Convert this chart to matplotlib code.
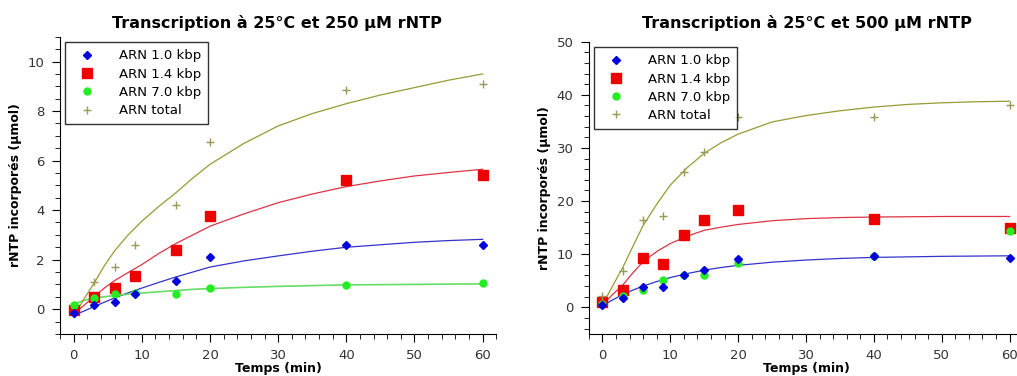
import numpy as np
from matplotlib import pyplot as plt
from matplotlib.ticker import MultipleLocator

# Sampling times (min)
t_250 = [0, 3, 6, 9, 15, 20, 40, 60]
t_500 = [0, 3, 6, 9, 12, 15, 20, 40, 60]

# Measured points, 250 uM rNTP
arn10_250 = [-0.15, 0.15, 0.3, 0.6, 1.15, 2.1, 2.6, 2.6]
arn14_250 = [-0.05, 0.5, 0.85, 1.35, 2.4, 3.75, 5.2, 5.4]
arn70_250 = [0.15, 0.45, 0.6, 0.65, 0.6, 0.85, 0.98, 1.05]
total_250 = [-0.2, 1.1, 1.7, 2.6, 4.2, 6.75, 8.85, 9.1]

# Measured points, 500 uM rNTP
arn10_500 = [0.5, 1.7, 3.9, 3.9, 6.0, 7.0, 9.1, 9.7, 9.2]
arn14_500 = [1.0, 3.2, 9.3, 8.2, 13.7, 16.5, 18.3, 16.7, 15.0]
arn70_500 = [0.7, 2.1, 3.3, 5.2, 6.0, 6.0, 8.3, 9.7, 14.3]
total_500 = [2.2, 6.9, 16.5, 17.2, 25.5, 29.3, 35.8, 35.8, 38.0]

# Fitted curves
t_fit = [0, 1.5, 3, 4.5, 6, 8, 10, 12.5, 15, 17.5, 20, 25, 30, 35, 40, 45, 50, 55, 60]
fit10_250 = [-0.25, -0.08, 0.1, 0.28, 0.45, 0.66, 0.85, 1.08, 1.3, 1.5, 1.7, 1.95, 2.15,
             2.34, 2.5, 2.6, 2.7, 2.77, 2.82]
fit14_250 = [-0.2, 0.15, 0.5, 0.85, 1.15, 1.48, 1.8, 2.25, 2.65, 3.0, 3.35, 3.85, 4.3,
             4.65, 4.95, 5.18, 5.38, 5.52, 5.65]
fit70_250 = [0.2, 0.35, 0.45, 0.5, 0.55, 0.6, 0.65, 0.7, 0.75, 0.8, 0.83, 0.88, 0.92,
             0.95, 0.98, 0.99, 1.0, 1.01, 1.02]
fittot_250 = [-0.3, 0.4, 1.05, 1.75, 2.35, 3.0, 3.55, 4.15, 4.7, 5.3, 5.85, 6.7, 7.4,
              7.9, 8.3, 8.65, 8.95, 9.25, 9.5]

fit10_500 = [0.3, 1.4, 2.4, 3.25, 4.0, 4.85, 5.6, 6.35, 7.0, 7.5, 7.9, 8.5, 8.9,
             9.2, 9.4, 9.5, 9.6, 9.65, 9.7]
fit14_500 = [0.5, 2.4, 4.2, 6.5, 8.6, 10.5, 12.0, 13.4, 14.5, 15.1, 15.6, 16.3, 16.7,
             16.9, 17.0, 17.05, 17.1, 17.1, 17.1]
fittot_500 = [0.5, 4.0, 7.5, 11.5, 15.4, 19.4, 23.0, 26.3, 29.0, 31.0, 32.6, 34.9, 36.1,
              37.0, 37.7, 38.2, 38.5, 38.7, 38.8]

labels = ["ARN 1.0 kbp", "ARN 1.4 kbp", "ARN 7.0 kbp", "ARN total"]
titles = ["Transcription à 25°C et 250 µM rNTP",
          "Transcription à 25°C et 500 µM rNTP"]

C_BLUE, C_RED, C_GREEN, C_OLIVE = "#0000dd", "#ee0000", "#22ee22", "#9a9a55"
L_BLUE, L_RED, L_GREEN, L_OLIVE = "#3333cc", "#dd3344", "#66dd66", "#999933"


def style_axes(ax, ylim, ymajor, yminor):
    ax.set_xlim(-2, 62)
    ax.set_ylim(*ylim)
    ax.spines["top"].set_visible(False)
    ax.spines["right"].set_visible(False)
    ax.xaxis.set_major_locator(MultipleLocator(10))
    ax.xaxis.set_minor_locator(MultipleLocator(2))
    ax.yaxis.set_major_locator(MultipleLocator(ymajor))
    ax.yaxis.set_minor_locator(MultipleLocator(yminor))
    ax.tick_params(which="major", direction="out", length=6, pad=5,
                   labelsize=9.5, labelcolor="#333333")
    ax.tick_params(which="minor", direction="out", length=3.5)
    ax.set_xlabel("Temps (min)", fontweight="bold", fontsize=9, labelpad=0)
    ax.set_ylabel("rNTP incorporés (µmol)", fontweight="bold", fontsize=9)


def draw_points(ax, t, a10, a14, a70, tot):
    ax.plot(t, a10, "D", color=C_BLUE, ms=4, label=labels[0], zorder=4)
    ax.plot(t, a14, "s", color=C_RED, ms=6.5, label=labels[1], zorder=3)
    ax.plot(t, a70, "o", color=C_GREEN, ms=5, label=labels[2], zorder=3)
    ax.plot(t, tot, "+", color=C_OLIVE, ms=6, mew=1, label=labels[3], zorder=3)
    leg = ax.legend(loc="upper left", fontsize=9.5, frameon=True, fancybox=False,
                    edgecolor="black", handletextpad=1.3, borderpad=0.55,
                    labelspacing=0.4, borderaxespad=0.4, handlelength=2.2)
    leg.get_frame().set_linewidth(1.0)


fig = plt.figure(figsize=(10.17, 3.76), dpi=100)
ax1 = fig.add_axes([0.059, 0.112, 0.429, 0.790])
ax2 = fig.add_axes([0.579, 0.112, 0.427, 0.777])

ax1.plot(t_fit, fit10_250, "-", color=L_BLUE, lw=0.9)
ax1.plot(t_fit, fit14_250, "-", color=L_RED, lw=0.9)
ax1.plot(t_fit, fit70_250, "-", color=L_GREEN, lw=1.2)
ax1.plot(t_fit, fittot_250, "-", color=L_OLIVE, lw=0.9)
draw_points(ax1, t_250, arn10_250, arn14_250, arn70_250, total_250)
style_axes(ax1, (-1, 11), 2, 0.5)

ax2.plot(t_fit, fit10_500, "-", color=L_BLUE, lw=0.9)
ax2.plot(t_fit, fit14_500, "-", color=L_RED, lw=0.9)
ax2.plot(t_fit, fittot_500, "-", color=L_OLIVE, lw=0.9)
draw_points(ax2, t_500, arn10_500, arn14_500, arn70_500, total_500)
style_axes(ax2, (-5, 50), 10, 2)

fig.text(0.272, 0.94, titles[0], ha="center", va="center",
         fontsize=11.5, fontweight="bold")
fig.text(0.793, 0.94, titles[1], ha="center", va="center",
         fontsize=11.5, fontweight="bold")

fig.savefig("out.png", dpi=100)
